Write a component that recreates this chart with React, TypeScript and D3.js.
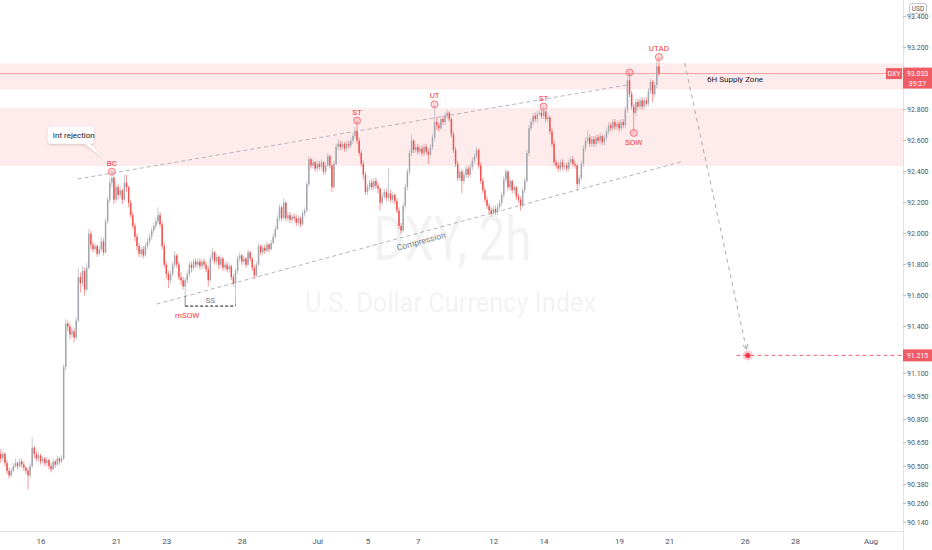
import * as d3 from 'd3';

const W = 932;
const H = 550;
const axisX = 903;
const axisY = 531;

// 2h candles, open of each bar = previous close
const firstOpen = 90.58;
const closes = [
  90.55, 90.58, 90.52, 90.47, 90.44, 90.47, 90.50, 90.52, 90.50, 90.53, 90.51, 90.49,
  90.47, 90.44, 90.50, 90.62, 90.58, 90.55, 90.57, 90.53, 90.55, 90.52, 90.54, 90.50,
  90.48, 90.53, 90.51, 90.55, 90.53, 90.55, 91.14, 91.42, 91.40, 91.35, 91.37, 91.33,
  91.44, 91.72, 91.68, 91.76, 91.64, 91.78, 92.00, 91.93, 91.90, 91.92, 91.87, 91.90,
  91.95, 91.88, 92.08, 92.22, 92.33, 92.36, 92.22, 92.30, 92.25, 92.28, 92.22, 92.33,
  92.30, 92.20, 92.12, 92.05, 91.98, 91.92, 91.87, 91.90, 91.86, 91.92, 91.95, 91.98,
  92.02, 92.05, 92.08, 92.12, 92.06, 91.92, 91.80, 91.74, 91.70, 91.74, 91.80, 91.86,
  91.80, 91.72, 91.70, 91.66, 91.70, 91.74, 91.80, 91.78, 91.82, 91.80, 91.82, 91.79,
  91.82, 91.80, 91.77, 91.70, 91.84, 91.88, 91.82, 91.85, 91.80, 91.84, 91.78, 91.80,
  91.77, 91.79, 91.72, 91.68, 91.76, 91.84, 91.86, 91.82, 91.84, 91.80, 91.88, 91.84,
  91.78, 91.73, 91.80, 91.92, 91.88, 91.91, 91.89, 91.93, 91.90, 91.94, 91.98, 92.03,
  92.10, 92.17, 92.10, 92.20, 92.10, 92.12, 92.09, 92.11, 92.10, 92.07, 92.10, 92.06,
  92.13, 92.15, 92.32, 92.48, 92.44, 92.46, 92.42, 92.45, 92.43, 92.46, 92.40, 92.44,
  92.50, 92.44, 92.30, 92.45, 92.56, 92.58, 92.56, 92.58, 92.55, 92.58, 92.57, 92.60,
  92.63, 92.66, 92.60, 92.52, 92.45, 92.38, 92.27, 92.30, 92.33, 92.30, 92.34, 92.31,
  92.29, 92.20, 92.24, 92.27, 92.23, 92.26, 92.22, 92.25, 92.21, 92.15, 92.05, 92.02,
  92.18, 92.30, 92.40, 92.52, 92.60, 92.54, 92.56, 92.53, 92.55, 92.52, 92.56, 92.53,
  92.51, 92.56, 92.62, 92.72, 92.70, 92.68, 92.74, 92.72, 92.76, 92.78, 92.74, 92.64,
  92.54, 92.45, 92.36, 92.40, 92.34, 92.38, 92.42, 92.38, 92.43, 92.47, 92.50, 92.54,
  92.44, 92.34, 92.28, 92.22, 92.18, 92.15, 92.13, 92.16, 92.14, 92.17, 92.20, 92.25,
  92.35, 92.40, 92.30, 92.34, 92.28, 92.30, 92.24, 92.22, 92.18, 92.28, 92.34, 92.52,
  92.68, 92.72, 92.76, 92.74, 92.77, 92.78, 92.76, 92.79, 92.74, 92.75, 92.66, 92.58,
  92.46, 92.44, 92.42, 92.46, 92.43, 92.44, 92.42, 92.46, 92.48, 92.45, 92.44, 92.32,
  92.36, 92.45, 92.55, 92.60, 92.62, 92.58, 92.61, 92.58, 92.62, 92.60, 92.63, 92.59,
  92.62, 92.66, 92.70, 92.68, 92.72, 92.69, 92.71, 92.68, 92.72, 92.70, 92.80, 92.99,
  92.90, 92.82, 92.78, 92.85, 92.82, 92.86, 92.82, 92.86, 92.84, 92.92, 92.98, 92.90,
  92.96, 93.08, 93.033,
];
const highs = [
  90.61, 90.60, 90.59, 90.54, 90.49, 90.49, 90.52, 90.55, 90.53, 90.55, 90.55, 90.53,
  90.50, 90.49, 90.52, 90.69, 90.63, 90.60, 90.59, 90.58, 90.57, 90.56, 90.56, 90.55,
  90.52, 90.55, 90.54, 90.57, 90.56, 90.57, 91.16, 91.45, 91.44, 91.42, 91.40, 91.39,
  91.46, 91.78, 91.75, 91.79, 91.78, 91.81, 92.03, 92.02, 91.95, 91.94, 91.93, 91.92,
  91.98, 91.97, 92.10, 92.24, 92.36, 92.41, 92.37, 92.33, 92.32, 92.31, 92.29, 92.38,
  92.38, 92.31, 92.22, 92.14, 92.07, 92.00, 91.94, 91.92, 91.92, 91.94, 91.97, 92.00,
  92.04, 92.07, 92.10, 92.17, 92.14, 92.08, 91.94, 91.82, 91.76, 91.76, 91.82, 91.89,
  91.87, 91.82, 91.75, 91.72, 91.72, 91.76, 91.82, 91.82, 91.84, 91.84, 91.84, 91.84,
  91.84, 91.84, 91.82, 91.79, 91.86, 91.91, 91.89, 91.87, 91.86, 91.86, 91.85, 91.82,
  91.82, 91.81, 91.80, 91.74, 91.78, 91.86, 91.88, 91.87, 91.86, 91.85, 91.90, 91.89,
  91.85, 91.80, 91.82, 91.94, 91.93, 91.93, 91.93, 91.95, 91.94, 91.96, 92.00, 92.05,
  92.12, 92.19, 92.18, 92.23, 92.21, 92.14, 92.14, 92.13, 92.13, 92.12, 92.12, 92.11,
  92.15, 92.17, 92.34, 92.50, 92.49, 92.48, 92.47, 92.47, 92.47, 92.48, 92.47, 92.46,
  92.52, 92.51, 92.45, 92.47, 92.58, 92.61, 92.60, 92.60, 92.59, 92.60, 92.60, 92.62,
  92.65, 92.69, 92.73, 92.62, 92.54, 92.47, 92.40, 92.32, 92.35, 92.35, 92.36, 92.36,
  92.33, 92.30, 92.26, 92.29, 92.29, 92.42, 92.28, 92.27, 92.26, 92.23, 92.17, 92.07,
  92.20, 92.32, 92.42, 92.54, 92.64, 92.61, 92.58, 92.58, 92.57, 92.57, 92.58, 92.58,
  92.55, 92.58, 92.64, 92.83, 92.75, 92.72, 92.76, 92.76, 92.78, 92.80, 92.79, 92.75,
  92.66, 92.56, 92.47, 92.42, 92.42, 92.40, 92.44, 92.44, 92.45, 92.49, 92.52, 92.56,
  92.55, 92.46, 92.36, 92.30, 92.24, 92.20, 92.17, 92.18, 92.18, 92.19, 92.22, 92.27,
  92.37, 92.42, 92.41, 92.36, 92.35, 92.32, 92.31, 92.26, 92.24, 92.30, 92.36, 92.54,
  92.70, 92.74, 92.78, 92.78, 92.79, 92.80, 92.80, 92.82, 92.79, 92.77, 92.76, 92.68,
  92.60, 92.48, 92.46, 92.48, 92.48, 92.46, 92.46, 92.48, 92.50, 92.50, 92.47, 92.45,
  92.38, 92.47, 92.57, 92.62, 92.67, 92.64, 92.63, 92.63, 92.64, 92.64, 92.65, 92.64,
  92.64, 92.68, 92.72, 92.72, 92.74, 92.74, 92.73, 92.73, 92.74, 92.74, 92.82, 93.01,
  93.04, 92.92, 92.84, 92.87, 92.87, 92.88, 92.88, 92.88, 92.88, 92.94, 93.00, 92.99,
  92.98, 93.12, 93.14,
];
const lows = [
  90.52, 90.53, 90.50, 90.45, 90.42, 90.43, 90.46, 90.49, 90.48, 90.49, 90.49, 90.47,
  90.45, 90.35, 90.42, 90.49, 90.55, 90.53, 90.53, 90.51, 90.51, 90.50, 90.50, 90.48,
  90.46, 90.47, 90.49, 90.50, 90.51, 90.52, 90.54, 91.12, 91.37, 91.32, 91.33, 91.30,
  91.32, 91.43, 91.62, 91.66, 91.60, 91.63, 91.77, 91.90, 91.88, 91.88, 91.85, 91.86,
  91.88, 91.86, 91.87, 92.06, 92.20, 92.30, 92.19, 92.20, 92.22, 92.23, 92.19, 92.21,
  92.27, 92.17, 92.10, 92.03, 91.95, 91.89, 91.85, 91.85, 91.84, 91.85, 91.90, 91.93,
  91.96, 92.00, 92.03, 92.06, 92.04, 91.90, 91.78, 91.71, 91.65, 91.68, 91.72, 91.78,
  91.78, 91.70, 91.67, 91.64, 91.60, 91.68, 91.72, 91.75, 91.76, 91.78, 91.78, 91.77,
  91.77, 91.78, 91.75, 91.66, 91.69, 91.82, 91.80, 91.80, 91.77, 91.78, 91.76, 91.76,
  91.75, 91.75, 91.70, 91.66, 91.55, 91.74, 91.82, 91.80, 91.80, 91.78, 91.79, 91.82,
  91.76, 91.71, 91.72, 91.79, 91.86, 91.86, 91.87, 91.88, 91.88, 91.89, 91.93, 91.97,
  92.02, 92.08, 92.08, 92.09, 92.08, 92.08, 92.07, 92.07, 92.08, 92.05, 92.05, 92.04,
  92.05, 92.11, 92.14, 92.30, 92.42, 92.42, 92.40, 92.40, 92.41, 92.41, 92.38, 92.38,
  92.43, 92.42, 92.27, 92.29, 92.44, 92.54, 92.54, 92.54, 92.53, 92.53, 92.55, 92.55,
  92.58, 92.61, 92.58, 92.50, 92.43, 92.35, 92.25, 92.25, 92.28, 92.28, 92.28, 92.29,
  92.26, 92.15, 92.18, 92.22, 92.21, 92.21, 92.20, 92.20, 92.19, 92.13, 92.03, 92.00,
  92.01, 92.16, 92.28, 92.38, 92.50, 92.52, 92.52, 92.51, 92.51, 92.50, 92.50, 92.51,
  92.45, 92.49, 92.54, 92.60, 92.67, 92.66, 92.67, 92.70, 92.70, 92.74, 92.72, 92.62,
  92.52, 92.43, 92.34, 92.34, 92.26, 92.32, 92.36, 92.36, 92.36, 92.41, 92.45, 92.48,
  92.42, 92.32, 92.26, 92.20, 92.16, 92.13, 92.11, 92.12, 92.12, 92.12, 92.15, 92.18,
  92.23, 92.33, 92.28, 92.28, 92.26, 92.26, 92.22, 92.20, 92.15, 92.17, 92.26, 92.33,
  92.50, 92.66, 92.70, 92.72, 92.72, 92.76, 92.74, 92.74, 92.72, 92.72, 92.64, 92.56,
  92.44, 92.42, 92.40, 92.40, 92.41, 92.41, 92.40, 92.40, 92.44, 92.43, 92.42, 92.28,
  92.30, 92.34, 92.43, 92.53, 92.58, 92.56, 92.56, 92.56, 92.56, 92.58, 92.58, 92.57,
  92.57, 92.60, 92.64, 92.66, 92.66, 92.67, 92.67, 92.66, 92.66, 92.68, 92.68, 92.78,
  92.88, 92.80, 92.66, 92.76, 92.80, 92.80, 92.80, 92.80, 92.82, 92.82, 92.90, 92.85,
  92.88, 92.94, 93.02,
];

// time: trading-day index (Jun 16 = 0), 12 two-hour bars per day
const firstBarDay = -1.6;
const barsPerDay = 12;
const dayTicks = [0, 3, 5, 8, 11, 13, 15, 18, 20, 23, 25, 28, 30, 33];
const dayLabels = ['16', '21', '23', '28', 'Jul', '5', '7', '12', '14', '19', '21', '26', '28', 'Aug'];

// 93.000 and 91.250 sit under the price labels, so they are not listed
const priceTicks = [93.4, 93.2, 92.8, 92.6, 92.4, 92.2, 92.0, 91.8, 91.6, 91.4, 91.1, 90.95, 90.8, 90.65, 90.5, 90.38, 90.26, 90.14];

// supply zones
const zoneTops = [93.10, 92.81];
const zoneBottoms = [92.93, 92.437];

// wyckoff markers
const markerLabels = ['BC', 'ST', 'UT', 'ST', '', 'SOW', 'UTAD'];
const markerBars = [53, 170, 207, 259, 300, 302, 314];
const markerPrices = [92.40, 92.73, 92.835, 92.82, 93.04, 92.65, 93.14];
const markerBelow = [false, false, false, false, false, true, false];

// channel lines
const upperBars = [36.7, 300.1];
const upperPrices = [92.353, 92.963];
const lowerBars = [74.4, 324.4];
const lowerPrices = [91.546, 92.463];
const projBars = [326.3, 356.4];
const projPrices = [93.10, 91.215];
const targetPrice = 91.215;
const targetStartBar = 351;
const lastPrice = 93.033;
const countdown = '39:27';
const ssBars = [88, 112];
const ssPrice = 91.533;
const mSowBar = 88;

const FONT = "Roboto, 'DejaVu Sans', sans-serif";
const UP = '#a3a6ae';
const DOWN = '#ef5350';
const RED = '#f23645';
const LABEL_BG = '#f05c63';

export default function App() {
  const x = d3.scaleLinear([0, 33], [41, 871]);
  const y = d3.scaleLinear([93.2, 90.14], [47.7, 522]);
  const bx = (i: number) => x(firstBarDay + i / barsPerDay);

  const candles = closes.map((c, i) => {
    const o = i === 0 ? firstOpen : closes[i - 1];
    const h = Math.max(highs[i], o, c);
    const l = Math.min(lows[i], o, c);
    return { i, o, c, h, l };
  });

  const line = (bars: number[], prices: number[]) =>
    d3.line<number>((_, k) => bx(bars[k]), (p) => y(p))(prices) ?? '';

  // compression label angle
  const lx0 = bx(lowerBars[0]), ly0 = y(lowerPrices[0]);
  const lx1 = bx(lowerBars[1]), ly1 = y(lowerPrices[1]);
  const ang = (Math.atan2(ly1 - ly0, lx1 - lx0) * 180) / Math.PI;
  const compBar = 201;
  const compT = (bx(compBar) - lx0) / (lx1 - lx0);
  const compY = ly0 + compT * (ly1 - ly0);

  // projection arrow
  const px0 = bx(projBars[0]), py0 = y(projPrices[0]);
  const px1 = bx(projBars[1]), py1 = y(projPrices[1]);
  const pa = Math.atan2(py1 - py0, px1 - px0);
  const tipX = px1 - Math.cos(pa) * 6, tipY = py1 - Math.sin(pa) * 6;
  const arrow = [pa + Math.PI - 0.45, pa + Math.PI + 0.45].map((a) => [tipX + Math.cos(a) * 6, tipY + Math.sin(a) * 6]);

  const bcX = bx(markerBars[0]);
  const bcY = y(markerPrices[0]);

  const plotMidX = axisX / 2;
  const ly = y(lastPrice);

  return (
    <svg width={W} height={H} style={{ position: 'absolute', left: 0, top: 0, background: '#fff' }} fontFamily={FONT}>
      <defs>
        <filter id="sh" x="-30%" y="-40%" width="160%" height="200%">
          <feDropShadow dx="0" dy="1" stdDeviation="1.5" floodColor="#000" floodOpacity="0.18" />
        </filter>
        <clipPath id="plot">
          <rect x={0} y={0} width={axisX} height={axisY} />
        </clipPath>
      </defs>

      {/* watermark */}
      <g fill="#787b86" opacity={0.09} textAnchor="middle">
        <text x={plotMidX + 1} y={260} fontSize={62} textLength={158} lengthAdjust="spacingAndGlyphs">DXY, 2h</text>
        <text x={plotMidX - 1} y={312} fontSize={28} textLength={291} lengthAdjust="spacingAndGlyphs">U.S. Dollar Currency Index</text>
      </g>

      <g clipPath="url(#plot)">
        {/* zones */}
        {zoneTops.map((t, k) => (
          <rect key={k} x={0} y={y(t)} width={axisX} height={y(zoneBottoms[k]) - y(t)} fill="rgba(242,54,69,0.1)" />
        ))}
        <line x1={0} x2={axisX} y1={ly} y2={ly} stroke="#f7a1a6" strokeWidth={1} />

        {/* channel */}
        <path d={line(upperBars, upperPrices)} stroke="#b2b5be" strokeWidth={1} strokeDasharray="4 3" fill="none" />
        <path d={line(lowerBars, lowerPrices)} stroke="#b2b5be" strokeWidth={1} strokeDasharray="4 3" fill="none" />
        <text
          x={bx(compBar)}
          y={compY + 12}
          fontSize={8.5}
          fill="#787b86"
          textAnchor="middle"
          transform={`rotate(${ang},${bx(compBar)},${compY + 12})`}
        >
          Compression
        </text>

        {/* candles */}
        {candles.map((d) => {
          const col = d.c >= d.o ? UP : DOWN;
          const cx = bx(d.i);
          const top = y(Math.max(d.o, d.c));
          const bh = Math.max(1, y(Math.min(d.o, d.c)) - top);
          return (
            <g key={d.i}>
              <line x1={cx} x2={cx} y1={y(d.h)} y2={y(d.l)} stroke={col} strokeWidth={0.8} opacity={0.75} />
              <rect x={cx - 0.75} y={top} width={1.5} height={bh} fill={col} />
            </g>
          );
        })}

        {/* SS equal lows */}
        <line x1={bx(ssBars[0])} x2={bx(ssBars[1])} y1={y(ssPrice)} y2={y(ssPrice)} stroke="#131722" strokeWidth={1} strokeDasharray="3 2" />
        {ssBars.map((b) => (
          <line key={b} x1={bx(b)} x2={bx(b)} y1={y(lows[b])} y2={y(ssPrice)} stroke="#131722" strokeWidth={0.8} opacity={0.6} />
        ))}
        <text x={(bx(ssBars[0]) + bx(ssBars[1])) / 2} y={y(ssPrice) - 3} fontSize={8} fill="#787b86" textAnchor="middle">SS</text>
        <text x={bx(mSowBar) + 2} y={y(lows[mSowBar]) + 22} fontSize={8} fill={RED} textAnchor="middle">mSOW</text>

        {/* markers */}
        {markerBars.map((b, k) => {
          const mx = bx(b);
          const my = y(markerPrices[k]);
          return (
            <g key={k}>
              <circle cx={mx} cy={my} r={3.5} fill="rgba(242,54,69,0.18)" stroke="#f7787e" strokeWidth={1} />
              {markerLabels[k] && (
                <text x={mx} y={markerBelow[k] ? my + 12 : my - 6} fontSize={8} fill={RED} textAnchor="middle">
                  {markerLabels[k]}
                </text>
              )}
            </g>
          );
        })}

        {/* callout */}
        <g filter="url(#sh)">
          <path
            d={`M${bcX - 61},${bcY - 45} h40 a3,3 0 0 1 3,3 v11 a3,3 0 0 1 -3,3 h-1 L${bcX - 7},${bcY - 13} L${bcX - 27},${bcY - 28} h-34 a3,3 0 0 1 -3,-3 v-11 a3,3 0 0 1 3,-3 z`}
            fill="#fff"
          />
        </g>
        <text x={bcX - 59} y={bcY - 33.5} fontSize={8} fill="#131722">Int rejection</text>

        <text x={bx(337)} y={y((zoneTops[0] + zoneBottoms[0]) / 2) + 6} fontSize={8} fill="#131722">6H Supply Zone</text>

        {/* projection */}
        <path d={line(projBars, projPrices)} stroke="#a8abb4" strokeWidth={1} strokeDasharray="4 4" fill="none" />
        <path d={`M${arrow[0][0]},${arrow[0][1]} L${tipX},${tipY} L${arrow[1][0]},${arrow[1][1]}`} stroke="#a8abb4" fill="none" strokeWidth={1} />
        <line x1={bx(targetStartBar)} x2={axisX} y1={y(targetPrice)} y2={y(targetPrice)} stroke={RED} strokeWidth={1} strokeDasharray="4 3" opacity={0.75} />
        <circle cx={px1} cy={y(targetPrice)} r={5} fill="rgba(242,54,69,0.25)" />
        <circle cx={px1} cy={y(targetPrice)} r={2.5} fill={RED} />
      </g>

      {/* axes */}
      <line x1={axisX + 0.5} x2={axisX + 0.5} y1={0} y2={H} stroke="#e0e3eb" />
      <line x1={0} x2={axisX} y1={axisY + 0.5} y2={axisY + 0.5} stroke="#e0e3eb" />
      {priceTicks.map((p) => (
        <g key={p}>
          <line x1={axisX} x2={axisX + 3} y1={y(p)} y2={y(p)} stroke="#b2b5be" />
          <text x={907} y={y(p) + 2.5} fontSize={7} fill="#50535e">
            {p.toFixed(3)}
          </text>
        </g>
      ))}
      {dayTicks.map((d, k) => (
        <text key={k} x={x(d)} y={544} fontSize={8} fill="#50535e" textAnchor="middle">{dayLabels[k]}</text>
      ))}

      {/* USD */}
      <rect x={909.5} y={3.5} width={17} height={10} rx={2} fill="#fff" stroke="#c3c6ce" />
      <text x={918} y={11} fontSize={6.5} fill="#50535e" textAnchor="middle">USD</text>

      {/* last price labels */}
      <rect x={886} y={ly - 5.5} width={16} height={11} fill={LABEL_BG} />
      <text x={894} y={ly + 2.5} fontSize={7} fill="#fff" textAnchor="middle">DXY</text>
      <rect x={903} y={ly - 6} width={29} height={21} fill={LABEL_BG} />
      <text x={917.5} y={ly + 2.5} fontSize={7} fill="#fff" textAnchor="middle">{lastPrice.toFixed(3)}</text>
      <text x={917.5} y={ly + 12} fontSize={7} fill="#fff" textAnchor="middle">{countdown}</text>

      {/* target label */}
      <rect x={903} y={y(targetPrice) - 6} width={29} height={12} fill={LABEL_BG} />
      <text x={917.5} y={y(targetPrice) + 2.5} fontSize={7} fill="#fff" textAnchor="middle">{targetPrice.toFixed(3)}</text>
    </svg>
  );
}
